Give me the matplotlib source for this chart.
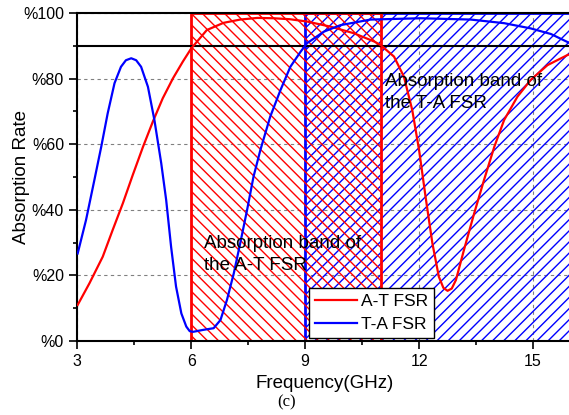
import matplotlib
matplotlib.use("Agg")
import matplotlib.pyplot as plt
from matplotlib.patches import Rectangle
from matplotlib.ticker import MultipleLocator, FuncFormatter

plt.rcParams['font.family'] = ['Liberation Sans', 'DejaVu Sans']
plt.rcParams['hatch.linewidth'] = 1.0

# A-T FSR absorption (%)
at_freq = [3.01, 3.32, 3.67, 3.93, 4.2, 4.46, 4.73, 4.99, 5.25, 5.52, 5.78,
           6.0, 6.41, 6.85, 7.29, 7.74, 8.17, 8.6, 9.05, 9.68, 10.29, 10.82,
           10.99, 11.34, 11.6, 11.82, 12.0, 12.17, 12.35, 12.52, 12.64, 12.75,
           12.86, 12.97, 13.18, 13.45, 13.71, 13.98, 14.24, 14.59, 14.94,
           15.38, 15.91, 16.0]
at_abs = [11, 17.6, 25.7, 33.8, 42, 50.6, 59.2, 66.9, 74, 80.1, 85.2,
          89.2, 94.8, 97, 98, 98.5, 98.4, 98.1, 97.4, 95.8, 93.8, 91.3,
          90.2, 86.7, 80.6, 70.4, 58.2, 44, 29.8, 19.6, 16.2, 15.3,
          16.0, 18.6, 27.7, 38.9, 49.1, 59.2, 67.4, 74.5, 79.6,
          84.1, 87.2, 87.5]

# T-A FSR absorption (%)
ta_freq = [3.01, 3.23, 3.45, 3.63, 3.8, 3.98, 4.15, 4.28, 4.42, 4.55, 4.68,
           4.86, 5.03, 5.21, 5.34, 5.47, 5.6, 5.74, 5.87, 5.96, 6.05, 6.32,
           6.59, 6.77, 6.94, 7.12, 7.29, 7.47, 7.64, 7.82, 8.08, 8.35, 8.61,
           8.88, 9.05, 9.49, 9.93, 10.72, 12.04, 13.36, 14.24, 14.94, 15.47,
           15.97]
ta_abs = [26.7, 36.9, 49.1, 59.2, 69.4, 78.6, 83.6, 85.6, 86.2, 85.6, 83.6,
          77.5, 67.4, 54.2, 43, 28.7, 16.6, 8.4, 4.4, 3.0, 2.8, 3.4,
          3.9, 6.4, 12.5, 20.6, 29.8, 39.9, 50.1, 58.2, 68.4, 76.5, 83.6,
          88.2, 90.8, 94.3, 96.3, 98, 98.4, 98, 96.9, 95.3, 93.6,
          90.8]

# absorption bands (GHz)
at_band = (6, 11)
ta_band = (9, 16)
threshold = 90

fig = plt.figure(figsize=(5.69, 4.15), dpi=100)
ax = fig.add_axes([77.3 / 569, 74 / 415, 493.7 / 569, 328 / 415])

ax.grid(True, linestyle=(0, (3, 3)), color='gray', linewidth=0.8)
ax.set_axisbelow(True)

ax.add_patch(Rectangle((ta_band[0], 0), ta_band[1] - ta_band[0], 100,
                       fill=False, edgecolor='blue', hatch='///', linewidth=2, zorder=2))
ax.add_patch(Rectangle((at_band[0], 0), at_band[1] - at_band[0], 100,
                       fill=False, edgecolor='red', hatch='\\\\\\', linewidth=2, zorder=2))

ax.axhline(threshold, color='black', linewidth=1.5, zorder=3)

ax.plot(at_freq, at_abs, color='red', linewidth=1.6, label='A-T FSR', zorder=4)
ax.plot(ta_freq, ta_abs, color='blue', linewidth=1.6, label='T-A FSR', zorder=4)

ax.text(11.1, 81.7, 'Absorption band of\nthe T-A FSR', fontsize=13.5, va='top', ha='left',
        linespacing=1.38, zorder=5)
ax.text(6.33, 32.4, 'Absorption band of\nthe A-T FSR', fontsize=13.5, va='top', ha='left',
        linespacing=1.38, zorder=5)

ax.set_xlim(3, 16)
ax.set_ylim(0, 100)
ax.xaxis.set_major_locator(MultipleLocator(3))
ax.xaxis.set_minor_locator(MultipleLocator(1.5))
ax.yaxis.set_major_locator(MultipleLocator(20))
ax.yaxis.set_minor_locator(MultipleLocator(10))
ax.yaxis.set_major_formatter(FuncFormatter(lambda v, p: '%%%d' % v))
ax.tick_params(which='both', direction='out', labelsize=11.5, width=1.2)
ax.tick_params(which='major', length=6)
ax.tick_params(which='minor', length=3)
for s in ax.spines.values():
    s.set_linewidth(1.5)

ax.set_xlabel('Frequency(GHz)', fontsize=13.5, labelpad=4)
ax.set_ylabel('Absorption Rate', fontsize=13.5)
ax.yaxis.set_label_coords(-0.096, 0.5)

leg = ax.legend(loc='lower left', bbox_to_anchor=(0.47, 0.01), fontsize=12.5,
                fancybox=False, edgecolor='black', framealpha=1,
                handlelength=2.4, borderpad=0.35, labelspacing=0.42,
                handletextpad=0.2, borderaxespad=0)
leg.get_frame().set_linewidth(1.0)
leg.set_zorder(6)

fig.text(287 / 569, 1 - 402 / 415, '(c)', fontsize=12, family='Liberation Serif',
         ha='center', va='center')

fig.savefig('out.png', dpi=100)
